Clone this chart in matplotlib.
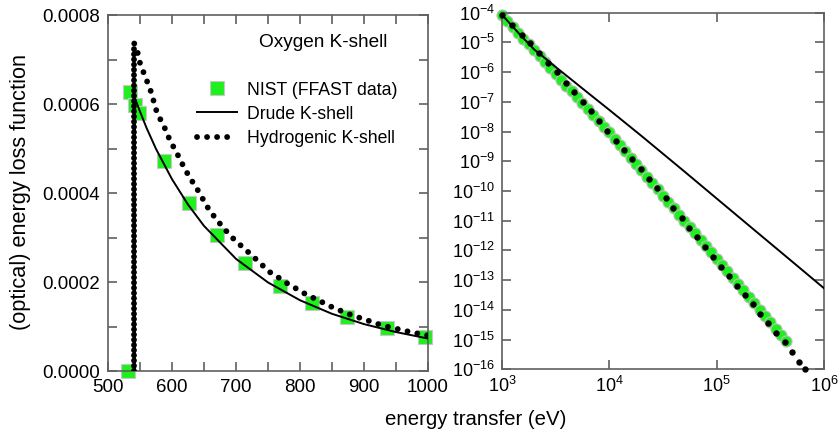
import numpy as np
import matplotlib
matplotlib.use('Agg')
import matplotlib.pyplot as plt
from matplotlib.ticker import MultipleLocator, FormatStrFormatter, LogLocator, NullLocator

plt.rcParams['font.family'] = ['Liberation Sans', 'DejaVu Sans']
plt.rcParams['mathtext.fontset'] = 'custom'
plt.rcParams['mathtext.rm'] = 'Liberation Sans'
plt.rcParams['mathtext.default'] = 'regular'

GREEN = '#1ef01e'
SPINE = '#606060'

# ---- left panel: oxygen K-shell edge, linear scale ----
nist_e = [531, 534, 542, 548, 587, 626, 670, 714, 768, 819, 874, 936, 995]
nist_elf = [0, 6.28e-4, 5.98e-4, 5.80e-4, 4.71e-4, 3.77e-4, 3.06e-4,
            2.42e-4, 1.91e-4, 1.52e-4, 1.21e-4, 0.96e-4, 0.76e-4]

drude_e = [542, 542, 550, 560, 575, 600, 625, 650, 700, 750, 800, 850, 900, 950, 1000]
drude_elf = [0, 6.13e-4, 5.83e-4, 5.47e-4, 4.99e-4, 4.31e-4, 3.74e-4, 3.26e-4,
             2.52e-4, 1.99e-4, 1.59e-4, 1.285e-4, 1.054e-4, 0.875e-4, 0.73e-4]

hydro_edge_e = [540, 540]
hydro_edge_elf = [0, 7.36e-4]
hydro_e = [541, 546, 550, 555, 561, 567, 576, 583, 590, 597, 605, 612, 620, 629,
           640, 656, 667, 680, 694, 709, 724, 738, 752, 768, 782, 798, 813, 828,
           843, 858, 872, 888, 903, 919, 932, 948, 963, 979, 993, 1000]
hydro_elf = [7.36e-4, 7.17e-4, 6.92e-4, 6.73e-4, 6.51e-4, 6.28e-4, 5.83e-4, 5.62e-4,
             5.42e-4, 5.17e-4, 4.97e-4, 4.77e-4, 4.54e-4, 4.32e-4, 4.07e-4, 3.67e-4,
             3.45e-4, 3.22e-4, 3.00e-4, 2.80e-4, 2.61e-4, 2.42e-4, 2.23e-4, 2.085e-4,
             1.95e-4, 1.82e-4, 1.69e-4, 1.60e-4, 1.48e-4, 1.39e-4, 1.30e-4, 1.22e-4,
             1.15e-4, 1.07e-4, 1.01e-4, 0.96e-4, 0.905e-4, 0.86e-4, 0.81e-4, 0.80e-4]

# ---- right panel: high energy tail, log-log ----
nist_hi_e = [1000, 1122, 1259, 1413, 1585, 1778, 1995, 2239, 2512, 2818, 3162, 3548,
             3981, 4467, 5012, 5623, 6310, 7079, 7943, 8913, 10000, 11220, 12590,
             14130, 15850, 17780, 19950, 22390, 25120, 28180, 31620, 35480, 39810,
             44670, 50120, 56230, 63100, 70790, 79430, 89130, 100000, 112200, 125900,
             141300, 158500, 177800, 199500, 223900, 251200, 281800, 316200, 354800,
             398100, 446700]
nist_hi_elf = [8.32e-5, 5.28e-5, 3.35e-5, 2.12e-5, 1.35e-5, 8.56e-6, 5.43e-6, 3.45e-6,
               2.19e-6, 1.39e-6, 8.81e-7, 5.59e-7, 3.55e-7, 2.25e-7, 1.43e-7, 9.07e-8,
               5.75e-8, 3.65e-8, 2.32e-8, 1.47e-8, 9.33e-9, 5.72e-9, 3.51e-9, 2.15e-9,
               1.32e-9, 8.08e-10, 4.95e-10, 3.04e-10, 1.86e-10, 1.14e-10, 7.00e-11,
               4.29e-11, 2.63e-11, 1.61e-11, 9.89e-12, 6.06e-12, 3.72e-12, 2.28e-12,
               1.40e-12, 8.56e-13, 5.25e-13, 3.30e-13, 2.00e-13, 1.22e-13, 7.4e-14,
               4.5e-14, 2.75e-14, 1.67e-14, 1.02e-14, 6.2e-15, 3.8e-15, 2.3e-15,
               1.4e-15, 9.0e-16]

drude_hi_e = [1000, 1500, 2000, 2500, 3000, 4000, 6000, 10000, 20000, 50000,
              100000, 200000, 500000, 1000000]
drude_hi_elf = [8.51e-5, 1.70e-5, 5.75e-6, 3.02e-6, 1.74e-6, 7.59e-7, 2.34e-7,
                5.37e-8, 7.08e-9, 4.57e-10, 5.62e-11, 6.92e-12, 4.37e-13, 5.37e-14]

hydro_hi_e = [1000, 1239, 1535, 1837, 2223, 2679, 3251, 3936, 4710, 5662, 6776, 8035,
              9616, 11590, 13740, 16440, 19630, 23500, 28050, 33570, 39540, 47210,
              55720, 66070, 77800, 93110, 109600, 130300, 153500, 183700, 216300,
              256400, 302700, 356500, 432500, 498900, 587500, 663700]
hydro_hi_elf = [8.3e-5, 3.85e-5, 1.77e-5, 9.3e-6, 4.3e-6, 1.97e-6, 1.03e-6, 4.4e-7,
                2.2e-7, 1.01e-7, 4.9e-8, 2.3e-8, 1.07e-8, 4.9e-9, 2.4e-9, 1.16e-9,
                5.5e-10, 2.5e-10, 1.23e-10, 5.7e-11, 2.75e-11, 1.2e-11, 5.8e-12,
                2.76e-12, 1.34e-12, 6.2e-13, 2.8e-13, 1.38e-13, 6.5e-14, 3.2e-14,
                1.53e-14, 7.3e-15, 3.5e-15, 1.62e-15, 8.5e-16, 3.9e-16, 1.8e-16, 1.0e-16]


def style_axes(ax):
    for sp in ax.spines.values():
        sp.set_color(SPINE)
        sp.set_linewidth(1.2)
    ax.tick_params(which='both', direction='in', top=True, right=True,
                   color=SPINE, width=1.2, length=6.5, labelsize=13.5, pad=6)


fig = plt.figure(figsize=(8.38, 4.37), dpi=100)
ax1 = fig.add_axes([0.1289, 0.151, 0.3819, 0.8146])
ax2 = fig.add_axes([0.599, 0.1549, 0.3842, 0.816])

# left panel
ax1.plot(nist_e, nist_elf, 's', ms=9.5, mfc=GREEN, mec='#c8c8c8', mew=0.8,
         clip_on=False, zorder=2, label='NIST (FFAST data)')
ax1.plot(drude_e, drude_elf, '-', color='black', lw=1.4, zorder=3,
         label='Drude K-shell')
ax1.plot(hydro_edge_e, hydro_edge_elf, color='black', lw=4.2,
         linestyle=(0, (0.01, 0.88)), dash_capstyle='round', zorder=4)
ax1.plot(hydro_e, hydro_elf, color='black', lw=4.2,
         linestyle=(0, (0.01, 1.71)), dash_capstyle='round', zorder=4,
         label='Hydrogenic K-shell')

ax1.set_xlim(500, 1000)
ax1.set_ylim(0, 0.0008)
ax1.xaxis.set_major_locator(MultipleLocator(100))
ax1.xaxis.set_minor_locator(MultipleLocator(50))
ax1.yaxis.set_major_locator(MultipleLocator(0.0002))
ax1.yaxis.set_minor_locator(MultipleLocator(0.0001))
ax1.yaxis.set_major_formatter(FormatStrFormatter('%.4f'))
style_axes(ax1)

ax1.text(0.672, 0.924, 'Oxygen K-shell', transform=ax1.transAxes,
         ha='center', va='center', fontsize=13.7)
ax1.legend(loc='upper left', bbox_to_anchor=(0.278, 0.813), frameon=False,
           borderpad=0, borderaxespad=0, handlelength=2.27, handletextpad=0.57,
           labelspacing=0.40, fontsize=12.7)

# right panel
ax2.plot(nist_hi_e, nist_hi_elf, 'o', ms=8.0, mfc=GREEN, mec='#c0c0c0', mew=0.8,
         clip_on=False, zorder=2)
ax2.plot(drude_hi_e, drude_hi_elf, '-', color='black', lw=1.4, zorder=3)
ax2.plot(hydro_hi_e, hydro_hi_elf, 'o', ms=4.6, color='black', mew=0,
         clip_on=False, zorder=4)

ax2.set_xscale('log')
ax2.set_yscale('log')
ax2.set_xlim(1e3, 1e6)
ax2.set_ylim(1e-16, 1e-4)
ax2.xaxis.set_major_locator(LogLocator(base=10, numticks=10))
ax2.yaxis.set_major_locator(LogLocator(base=10, numticks=20))
ax2.xaxis.set_minor_locator(NullLocator())
ax2.yaxis.set_minor_locator(NullLocator())
style_axes(ax2)
ax2.tick_params(labelsize=13, pad=5)

fig.text(0.024, 0.561, '(optical) energy loss function', rotation=90,
         ha='center', va='center', fontsize=15.7)
fig.text(0.568, 0.0275, 'energy transfer (eV)', ha='center', va='baseline',
         fontsize=14.7)

fig.savefig('out.png', dpi=100)
